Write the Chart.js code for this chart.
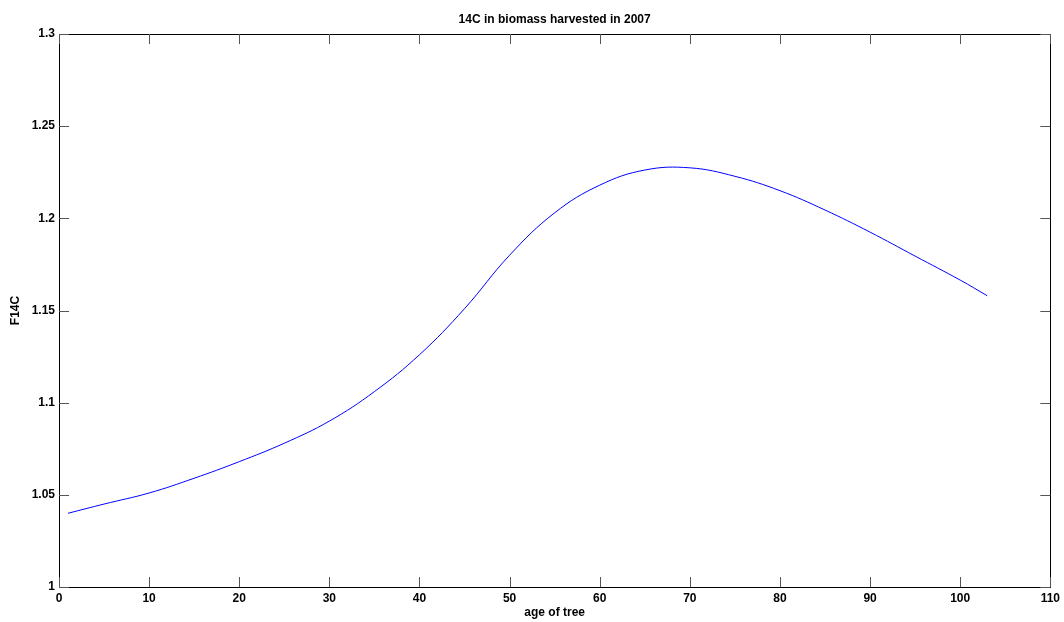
<!DOCTYPE html>
<html>
<head>
<meta charset="utf-8">
<script src="https://cdn.jsdelivr.net/npm/chart.js@4"></script>
<style>
  body { margin: 0; background: #fff; }
  #wrap { width: 1064px; height: 622px; }
</style>
</head>
<body>
<div id="wrap"><canvas id="chart"></canvas></div>
<script>
// values
const ages = [1, 5, 10, 15, 20, 25, 30, 35, 40, 45, 50, 55, 60, 65, 70, 75, 80, 85, 90, 95, 100, 103];
const f14c = [1.040, 1.045, 1.051, 1.059, 1.068, 1.078, 1.090, 1.106, 1.126, 1.151, 1.180, 1.203, 1.218, 1.2262,
              1.2274, 1.2228, 1.2150, 1.2045, 1.1925, 1.1795, 1.1665, 1.158];
const xTicks = [0, 10, 20, 30, 40, 50, 60, 70, 80, 90, 100, 110];
const yTicks = [1, 1.05, 1.1, 1.15, 1.2, 1.25, 1.3];

const font = { family: "'Liberation Sans', Arial, Helvetica, sans-serif", size: 12, weight: "bold" };

// matlab style ticks pointing into the plot box, on all four sides
const innerTicks = {
  id: "innerTicks",
  afterDraw(chart) {
    const { ctx, chartArea: a, scales } = chart;
    const len = 10;
    ctx.save();
    ctx.strokeStyle = "#555";
    ctx.lineWidth = 1;
    ctx.beginPath();
    xTicks.forEach(function (v) {
      const px = Math.round(scales.x.getPixelForValue(v)) + 0.5;
      ctx.moveTo(px, a.bottom); ctx.lineTo(px, a.bottom - len);
      ctx.moveTo(px, a.top); ctx.lineTo(px, a.top + len);
    });
    yTicks.forEach(function (v) {
      const py = Math.round(scales.y.getPixelForValue(v)) + 0.5;
      ctx.moveTo(a.left, py); ctx.lineTo(a.left + len, py);
      ctx.moveTo(a.right, py); ctx.lineTo(a.right - len, py);
    });
    ctx.stroke();
    ctx.restore();
  }
};

const ctx = document.getElementById("chart").getContext("2d");
const myChart = new Chart(ctx, {
  type: "line",
  data: {
    datasets: [
      {
        data: ages.map((a, i) => ({ x: a, y: f14c[i] })),
        borderColor: "#0000ff",
        borderWidth: 1,
        pointRadius: 0,
        tension: 0.4,
        fill: false,
      },
    ],
  },
  options: {
    responsive: true,
    maintainAspectRatio: false,
    animation: false,
    layout: { padding: 0 },
    plugins: {
      legend: { display: false },
      tooltip: { enabled: false },
      title: { display: false },
    },
    scales: {
      x: {
        type: "linear",
        position: "bottom",
        min: 0,
        max: 110,
        afterBuildTicks: (s) => { s.ticks = xTicks.map((v) => ({ value: v })); },
        ticks: { font: font, color: "#000", padding: 4, maxRotation: 0 },
        grid: { display: false, drawTicks: false },
        border: { display: true, color: "#000", width: 1 },
        title: { display: true, text: "age of tree", font: font, color: "#000", padding: { top: 0, bottom: 2 } },
        afterFit: (s) => { s.height = 35; },
      },
      x2: {
        type: "linear",
        position: "top",
        min: 0,
        max: 110,
        ticks: { display: false },
        grid: { display: false, drawTicks: false },
        border: { display: true, color: "#000", width: 1 },
        title: { display: true, text: "14C in biomass harvested in 2007", font: font, color: "#000", padding: { top: 12, bottom: 0 } },
        afterFit: (s) => { s.height = 34; },
      },
      y: {
        type: "linear",
        position: "left",
        min: 1,
        max: 1.3,
        afterBuildTicks: (s) => { s.ticks = yTicks.map((v) => ({ value: v })); },
        ticks: { font: font, color: "#000", padding: 4, callback: (v) => String(+v.toFixed(2)) },
        grid: { display: false, drawTicks: false },
        border: { display: true, color: "#000", width: 1 },
        title: { display: true, text: "F14C", font: font, color: "#000", padding: { top: 8, bottom: 0 } },
        afterFit: (s) => { s.width = 59; },
      },
      y2: {
        type: "linear",
        position: "right",
        min: 1,
        max: 1.3,
        ticks: { display: false },
        grid: { display: false, drawTicks: false },
        border: { display: true, color: "#000", width: 1 },
        afterFit: (s) => { s.width = 13; },
      },
    },
  },
  plugins: [innerTicks],
});
</script>
</body>
</html>
